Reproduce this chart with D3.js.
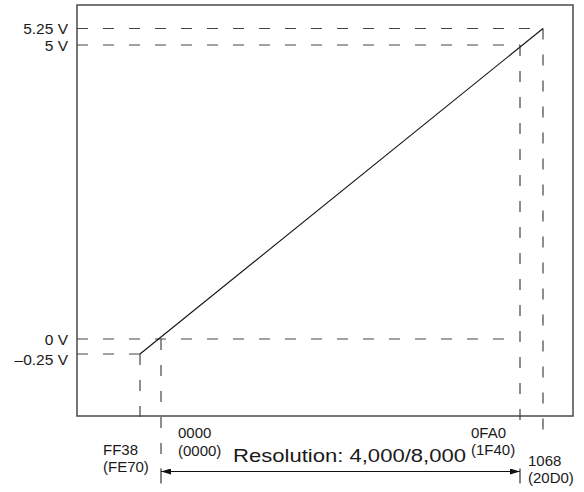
<!DOCTYPE html>
<html><head><meta charset="utf-8">
<script src="https://cdn.jsdelivr.net/npm/d3@7"></script>
<style>
html,body{margin:0;padding:0;background:#fff;}
text{font-family:"Liberation Sans",Arial,Helvetica,sans-serif;fill:#1a1a1a;}
</style></head>
<body><svg id="c" width="584" height="492"></svg>
<script>
// Data
const codes = [-200, 0, 4000, 4200];
const codeLabels = ["FF38", "0000", "0FA0", "1068"];
const codeLabels2 = ["(FE70)", "(0000)", "(1F40)", "(20D0)"];
const voltages = [-0.25, 0, 5, 5.25];
const voltLabels = ["\u20130.25 V", "0 V", "5 V", "5.25 V"];
const lineCodes = [-200, 4200];
const lineVolts = [-0.25, 5.25];
const resolutionText = "Resolution: 4,000/8,000";

const svg = d3.select("#c");
const box = {left: 77, top: 5, right: 573, bottom: 416};

const x = d3.scaleLinear().domain([-200, 0, 4000, 4200]).range([140, 161, 520, 543]);
const y = d3.scaleLinear().domain([-0.25, 0, 5, 5.25]).range([354, 339, 45, 28.5]);

const dashStyle = s => s.attr("stroke", "#444").attr("stroke-width", 1.2).attr("stroke-dasharray", "11,15").attr("fill", "none");

// frame
svg.append("rect").attr("x", box.left).attr("y", box.top)
  .attr("width", box.right - box.left).attr("height", box.bottom - box.top)
  .attr("fill", "none").attr("stroke", "#555").attr("stroke-width", 1.6);

// horizontal dashed guides: -0.25 ends at its code, 0 V runs across, 5 and 5.25 end at theirs
svg.append("g").selectAll("line").data(voltages).join("line")
  .attr("x1", box.left).attr("x2", (d, i) => d === 0 ? x(codes[2]) - 5 : x(codes[i]))
  .attr("y1", d => y(d)).attr("y2", d => y(d))
  .call(dashStyle);

// vertical dashed guides
const vEnds = [420, 464, 432, 440];
svg.append("g").selectAll("line").data(codes).join("line")
  .attr("x1", d => x(d)).attr("x2", d => x(d))
  .attr("y1", (d, i) => y(voltages[i])).attr("y2", (d, i) => vEnds[i])
  .call(dashStyle);

// transfer line
svg.append("path")
  .datum(lineCodes.map((c, i) => [c, lineVolts[i]]))
  .attr("d", d3.line().x(d => x(d[0])).y(d => y(d[1])))
  .attr("stroke", "#111").attr("stroke-width", 1.1).attr("fill", "none");

// voltage labels
svg.append("g").selectAll("text").data(voltages).join("text")
  .attr("x", 68).attr("y", (d, i) => y(d) + (d < 0 ? 11 : 5.5))
  .attr("text-anchor", "end").attr("font-size", 15.5)
  .text((d, i) => voltLabels[i]);

// code labels
const place = [
  {dx: -37, y1: 455, y2: 472},
  {dx: 17, y1: 438, y2: 456},
  {dx: -49, y1: 438, y2: 455},
  {dx: -15, y1: 466, y2: 483}
];
const lab = svg.append("g").selectAll("g").data(codes).join("g");
lab.append("text").attr("x", (d, i) => x(d) + place[i].dx).attr("y", (d, i) => place[i].y1)
  .attr("font-size", 15).text((d, i) => codeLabels[i]);
lab.append("text").attr("x", (d, i) => x(d) + place[i].dx).attr("y", (d, i) => place[i].y2)
  .attr("font-size", 15).text((d, i) => codeLabels2[i]);

// resolution arrow
const defs = svg.append("defs");
defs.append("marker").attr("id", "ah").attr("viewBox", "0 0 10 6").attr("refX", 10).attr("refY", 3)
  .attr("markerWidth", 14).attr("markerHeight", 6).attr("markerUnits", "userSpaceOnUse").attr("orient", "auto-start-reverse")
  .append("path").attr("d", "M0,0 L10,3 L0,6 Z").attr("fill", "#111");
const ay = 471.5;
svg.append("line").attr("x1", x(0)).attr("x2", x(4000)).attr("y1", ay).attr("y2", ay)
  .attr("stroke", "#111").attr("stroke-width", 1.1)
  .attr("marker-start", "url(#ah)").attr("marker-end", "url(#ah)");
svg.append("g").selectAll("line").data([0, 4000]).join("line")
  .attr("x1", d => x(d)).attr("x2", d => x(d)).attr("y1", ay - 3).attr("y2", ay + 12)
  .attr("stroke", "#333").attr("stroke-width", 1.2);

svg.append("text").attr("x", 233).attr("y", 462).attr("font-size", 19)
  .attr("textLength", 233).attr("lengthAdjust", "spacingAndGlyphs")
  .text(resolutionText);
</script></body></html>
